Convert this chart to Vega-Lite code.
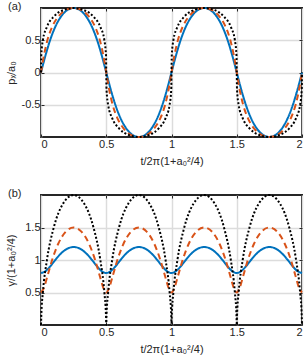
{
 "$schema": "https://vega.github.io/schema/vega-lite/v6.json",
 "padding": {"left": 4, "top": 0, "right": 1, "bottom": 0},
 "spacing": 20,
 "config": {
  "view": {"stroke": "#262626", "strokeWidth": 2},
  "font": "Liberation Sans",
  "axis": {"labelFont": "Liberation Sans", "titleFont": "Liberation Sans", "labelFontSize": 11, "titleFontSize": 11, "labelColor": "#262626", "titleColor": "#262626", "titleFontWeight": "normal", "gridColor": "#dcdcdc", "gridWidth": 1.5, "domain": false, "ticks": true, "tickSize": -3, "tickColor": "#262626", "tickWidth": 1, "labelPadding": 4},
  "title": {"font": "Liberation Sans", "fontSize": 11, "fontWeight": "normal", "color": "#262626"}
 },
 "datasets": {"d": [
  {"s":"a","t":0,"px":0,"g":0.8},{"s":"a","t":0.0337,"px":0.2588,"g":0.8268},{"s":"a","t":0.0696,"px":0.5,"g":0.9},{"s":"a","t":0.1091,"px":0.7071,"g":1},{"s":"a","t":0.1529,"px":0.866,"g":1.1},{"s":"a","t":0.2004,"px":0.9659,"g":1.1732},{"s":"a","t":0.25,"px":1,"g":1.2},{"s":"a","t":0.2996,"px":0.9659,"g":1.1732},{"s":"a","t":0.3471,"px":0.866,"g":1.1},{"s":"a","t":0.3909,"px":0.7071,"g":1},{"s":"a","t":0.4304,"px":0.5,"g":0.9},{"s":"a","t":0.4663,"px":0.2588,"g":0.8268},{"s":"a","t":0.5,"px":0,"g":0.8},{"s":"a","t":0.5337,"px":-0.2588,"g":0.8268},{"s":"a","t":0.5696,"px":-0.5,"g":0.9},{"s":"a","t":0.6091,"px":-0.7071,"g":1},{"s":"a","t":0.6529,"px":-0.866,"g":1.1},{"s":"a","t":0.7004,"px":-0.9659,"g":1.1732},{"s":"a","t":0.75,"px":-1,"g":1.2},{"s":"a","t":0.7996,"px":-0.9659,"g":1.1732},{"s":"a","t":0.8471,"px":-0.866,"g":1.1},{"s":"a","t":0.8909,"px":-0.7071,"g":1},{"s":"a","t":0.9304,"px":-0.5,"g":0.9},{"s":"a","t":0.9663,"px":-0.2588,"g":0.8268},{"s":"a","t":1,"px":0,"g":0.8},
  {"s":"a","t":1.0337,"px":0.2588,"g":0.8268},{"s":"a","t":1.0696,"px":0.5,"g":0.9},{"s":"a","t":1.1091,"px":0.7071,"g":1},{"s":"a","t":1.1529,"px":0.866,"g":1.1},{"s":"a","t":1.2004,"px":0.9659,"g":1.1732},{"s":"a","t":1.25,"px":1,"g":1.2},{"s":"a","t":1.2996,"px":0.9659,"g":1.1732},{"s":"a","t":1.3471,"px":0.866,"g":1.1},{"s":"a","t":1.3909,"px":0.7071,"g":1},{"s":"a","t":1.4304,"px":0.5,"g":0.9},{"s":"a","t":1.4663,"px":0.2588,"g":0.8268},{"s":"a","t":1.5,"px":0,"g":0.8},{"s":"a","t":1.5337,"px":-0.2588,"g":0.8268},{"s":"a","t":1.5696,"px":-0.5,"g":0.9},{"s":"a","t":1.6091,"px":-0.7071,"g":1},{"s":"a","t":1.6529,"px":-0.866,"g":1.1},{"s":"a","t":1.7004,"px":-0.9659,"g":1.1732},{"s":"a","t":1.75,"px":-1,"g":1.2},{"s":"a","t":1.7996,"px":-0.9659,"g":1.1732},{"s":"a","t":1.8471,"px":-0.866,"g":1.1},{"s":"a","t":1.8909,"px":-0.7071,"g":1},{"s":"a","t":1.9304,"px":-0.5,"g":0.9},{"s":"a","t":1.9663,"px":-0.2588,"g":0.8268},{"s":"a","t":2,"px":0,"g":0.8},
  {"s":"b","t":0,"px":0,"g":0.5},{"s":"b","t":0.0218,"px":0.2588,"g":0.567},{"s":"b","t":0.0489,"px":0.5,"g":0.75},{"s":"b","t":0.0852,"px":0.7071,"g":1},{"s":"b","t":0.1322,"px":0.866,"g":1.25},{"s":"b","t":0.1884,"px":0.9659,"g":1.433},{"s":"b","t":0.25,"px":1,"g":1.5},{"s":"b","t":0.3116,"px":0.9659,"g":1.433},{"s":"b","t":0.3678,"px":0.866,"g":1.25},{"s":"b","t":0.4148,"px":0.7071,"g":1},{"s":"b","t":0.4511,"px":0.5,"g":0.75},{"s":"b","t":0.4782,"px":0.2588,"g":0.567},{"s":"b","t":0.5,"px":0,"g":0.5},{"s":"b","t":0.5218,"px":-0.2588,"g":0.567},{"s":"b","t":0.5489,"px":-0.5,"g":0.75},{"s":"b","t":0.5852,"px":-0.7071,"g":1},{"s":"b","t":0.6322,"px":-0.866,"g":1.25},{"s":"b","t":0.6884,"px":-0.9659,"g":1.433},{"s":"b","t":0.75,"px":-1,"g":1.5},{"s":"b","t":0.8116,"px":-0.9659,"g":1.433},{"s":"b","t":0.8678,"px":-0.866,"g":1.25},{"s":"b","t":0.9148,"px":-0.7071,"g":1},{"s":"b","t":0.9511,"px":-0.5,"g":0.75},{"s":"b","t":0.9782,"px":-0.2588,"g":0.567},{"s":"b","t":1,"px":0,"g":0.5},
  {"s":"b","t":1.0218,"px":0.2588,"g":0.567},{"s":"b","t":1.0489,"px":0.5,"g":0.75},{"s":"b","t":1.0852,"px":0.7071,"g":1},{"s":"b","t":1.1322,"px":0.866,"g":1.25},{"s":"b","t":1.1884,"px":0.9659,"g":1.433},{"s":"b","t":1.25,"px":1,"g":1.5},{"s":"b","t":1.3116,"px":0.9659,"g":1.433},{"s":"b","t":1.3678,"px":0.866,"g":1.25},{"s":"b","t":1.4148,"px":0.7071,"g":1},{"s":"b","t":1.4511,"px":0.5,"g":0.75},{"s":"b","t":1.4782,"px":0.2588,"g":0.567},{"s":"b","t":1.5,"px":0,"g":0.5},{"s":"b","t":1.5218,"px":-0.2588,"g":0.567},{"s":"b","t":1.5489,"px":-0.5,"g":0.75},{"s":"b","t":1.5852,"px":-0.7071,"g":1},{"s":"b","t":1.6322,"px":-0.866,"g":1.25},{"s":"b","t":1.6884,"px":-0.9659,"g":1.433},{"s":"b","t":1.75,"px":-1,"g":1.5},{"s":"b","t":1.8116,"px":-0.9659,"g":1.433},{"s":"b","t":1.8678,"px":-0.866,"g":1.25},{"s":"b","t":1.9148,"px":-0.7071,"g":1},{"s":"b","t":1.9511,"px":-0.5,"g":0.75},{"s":"b","t":1.9782,"px":-0.2588,"g":0.567},{"s":"b","t":2,"px":0,"g":0.5},
  {"s":"c","t":0,"px":0,"g":0},{"s":"c","t":0.0019,"px":0.2588,"g":0.134},{"s":"c","t":0.0144,"px":0.5,"g":0.5},{"s":"c","t":0.0454,"px":0.7071,"g":1},{"s":"c","t":0.0977,"px":0.866,"g":1.5},{"s":"c","t":0.1685,"px":0.9659,"g":1.866},{"s":"c","t":0.25,"px":1,"g":2},{"s":"c","t":0.3315,"px":0.9659,"g":1.866},{"s":"c","t":0.4023,"px":0.866,"g":1.5},{"s":"c","t":0.4546,"px":0.7071,"g":1},{"s":"c","t":0.4856,"px":0.5,"g":0.5},{"s":"c","t":0.4981,"px":0.2588,"g":0.134},{"s":"c","t":0.5,"px":0,"g":0},{"s":"c","t":0.5019,"px":-0.2588,"g":0.134},{"s":"c","t":0.5144,"px":-0.5,"g":0.5},{"s":"c","t":0.5454,"px":-0.7071,"g":1},{"s":"c","t":0.5977,"px":-0.866,"g":1.5},{"s":"c","t":0.6685,"px":-0.9659,"g":1.866},{"s":"c","t":0.75,"px":-1,"g":2},{"s":"c","t":0.8315,"px":-0.9659,"g":1.866},{"s":"c","t":0.9023,"px":-0.866,"g":1.5},{"s":"c","t":0.9546,"px":-0.7071,"g":1},{"s":"c","t":0.9856,"px":-0.5,"g":0.5},{"s":"c","t":0.9981,"px":-0.2588,"g":0.134},{"s":"c","t":1,"px":0,"g":0},
  {"s":"c","t":1.0019,"px":0.2588,"g":0.134},{"s":"c","t":1.0144,"px":0.5,"g":0.5},{"s":"c","t":1.0454,"px":0.7071,"g":1},{"s":"c","t":1.0977,"px":0.866,"g":1.5},{"s":"c","t":1.1685,"px":0.9659,"g":1.866},{"s":"c","t":1.25,"px":1,"g":2},{"s":"c","t":1.3315,"px":0.9659,"g":1.866},{"s":"c","t":1.4023,"px":0.866,"g":1.5},{"s":"c","t":1.4546,"px":0.7071,"g":1},{"s":"c","t":1.4856,"px":0.5,"g":0.5},{"s":"c","t":1.4981,"px":0.2588,"g":0.134},{"s":"c","t":1.5,"px":0,"g":0},{"s":"c","t":1.5019,"px":-0.2588,"g":0.134},{"s":"c","t":1.5144,"px":-0.5,"g":0.5},{"s":"c","t":1.5454,"px":-0.7071,"g":1},{"s":"c","t":1.5977,"px":-0.866,"g":1.5},{"s":"c","t":1.6685,"px":-0.9659,"g":1.866},{"s":"c","t":1.75,"px":-1,"g":2},{"s":"c","t":1.8315,"px":-0.9659,"g":1.866},{"s":"c","t":1.9023,"px":-0.866,"g":1.5},{"s":"c","t":1.9546,"px":-0.7071,"g":1},{"s":"c","t":1.9856,"px":-0.5,"g":0.5},{"s":"c","t":1.9981,"px":-0.2588,"g":0.134},{"s":"c","t":2,"px":0,"g":0}
 ]},
 "vconcat": [
  {
   "width": 261, "height": 129,
   "title": {"text": "(a)", "anchor": "start", "frame": "group", "offset": -8, "dx": -33, "baseline": "top"},
   "data": {"name": "d"},
   "layer": [
    {
     "mark": {"type": "line", "strokeWidth": 2, "interpolate": "monotone"},
     "encoding": {
      "x": {"field": "t", "type": "quantitative", "scale": {"domain": [0, 2], "nice": false}, "axis": {"values": [0, 0.5, 1, 1.5, 2], "format": ".1~f", "title": "t/2π(1+a₀²/4)", "titlePadding": 6}},
      "y": {"field": "px", "type": "quantitative", "scale": {"domain": [-1, 1], "nice": false}, "axis": {"values": [-0.5, 0, 0.5], "format": ".1~f", "labelExpr": "replace(datum.label, '−', '-')", "title": "pₓ/a₀", "titleX": -30, "titleBaseline": "middle"}},
      "color": {"field": "s", "type": "nominal", "scale": {"domain": ["a", "b", "c"], "range": ["#0072BD", "#D95319", "#000000"]}, "legend": null},
      "strokeDash": {"field": "s", "type": "nominal", "scale": {"domain": ["a", "b", "c"], "range": [[1, 0], [6, 4], [2, 2]]}, "legend": null}
     }
    },
    {
     "mark": {"type": "point", "opacity": 0},
     "encoding": {
      "x": {"field": "t", "type": "quantitative", "axis": {"orient": "top", "values": [0.5, 1, 1.5], "labels": false, "title": null, "grid": false}},
      "y": {"field": "px", "type": "quantitative", "axis": {"orient": "right", "values": [-0.5, 0, 0.5], "labels": false, "title": null, "grid": false}}
     }
    }
   ],
   "resolve": {"axis": {"x": "independent", "y": "independent"}}
  },
  {
   "width": 261, "height": 130,
   "title": {"text": "(b)", "anchor": "start", "frame": "group", "offset": -8, "dx": -33, "baseline": "top"},
   "data": {"name": "d"},
   "layer": [
    {
     "mark": {"type": "line", "strokeWidth": 2, "interpolate": "monotone"},
     "encoding": {
      "x": {"field": "t", "type": "quantitative", "scale": {"domain": [0, 2], "nice": false}, "axis": {"values": [0, 0.5, 1, 1.5, 2], "format": ".1~f", "title": "t/2π(1+a₀²/4)", "titlePadding": 6}},
      "y": {"field": "g", "type": "quantitative", "scale": {"domain": [0, 2], "nice": false}, "axis": {"values": [0.5, 1, 1.5], "format": ".1~f", "title": "γ/(1+a₀²/4)", "titleX": -30, "titleBaseline": "middle"}},
      "color": {"field": "s", "type": "nominal", "scale": {"domain": ["a", "b", "c"], "range": ["#0072BD", "#D95319", "#000000"]}, "legend": null},
      "strokeDash": {"field": "s", "type": "nominal", "scale": {"domain": ["a", "b", "c"], "range": [[1, 0], [6, 4], [2, 2]]}, "legend": null}
     }
    },
    {
     "mark": {"type": "point", "opacity": 0},
     "encoding": {
      "x": {"field": "t", "type": "quantitative", "axis": {"orient": "top", "values": [0.5, 1, 1.5], "labels": false, "title": null, "grid": false}},
      "y": {"field": "g", "type": "quantitative", "axis": {"orient": "right", "values": [0.5, 1, 1.5], "labels": false, "title": null, "grid": false}}
     }
    }
   ],
   "resolve": {"axis": {"x": "independent", "y": "independent"}}
  }
 ]
}
